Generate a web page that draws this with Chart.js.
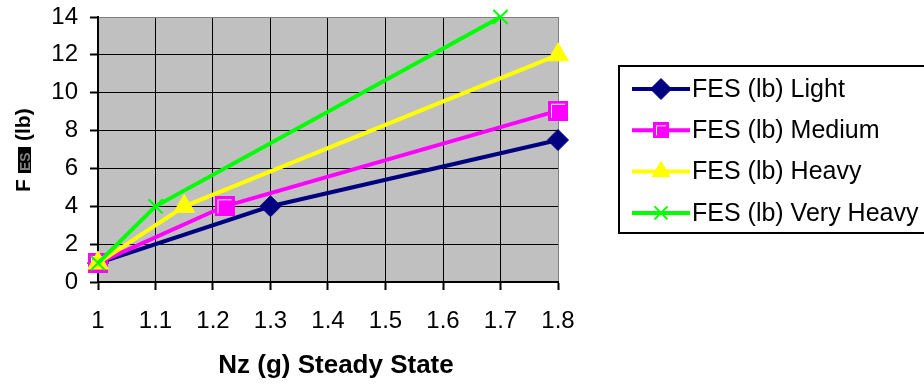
<!DOCTYPE html>
<html>
<head>
<meta charset="utf-8">
<script src="https://cdn.jsdelivr.net/npm/chart.js@4.4.0/dist/chart.umd.min.js"></script>
<style>
  html, body { margin: 0; padding: 0; background: #fff; }
  canvas { display: block; }
</style>
</head>
<body>
<canvas id="chart" width="924" height="384"></canvas>
<script>
// values
const seriesNames = ['FES (lb) Light', 'FES (lb) Medium', 'FES (lb) Heavy', 'FES (lb) Very Heavy'];
const lightNz = [1, 1.3, 1.8];
const lightFes = [1, 4, 7.5];
const mediumNz = [1, 1.22, 1.8];
const mediumFes = [1, 4, 9.05];
const heavyNz = [1, 1.15, 1.8];
const heavyFes = [1, 4, 12];
const veryHeavyNz = [1, 1.1, 1.7];
const veryHeavyFes = [1, 4, 14];

const nzTicks = [1, 1.1, 1.2, 1.3, 1.4, 1.5, 1.6, 1.7, 1.8];
const nzTickLabels = ['1', '1.1', '1.2', '1.3', '1.4', '1.5', '1.6', '1.7', '1.8'];
const fesTicks = [0, 2, 4, 6, 8, 10, 12, 14];
const fesTickLabels = ['0', '2', '4', '6', '8', '10', '12', '14'];

const xTitle = 'Nz (g) Steady State';

Chart.defaults.font.family = "'Liberation Sans', Arial, sans-serif";
Chart.defaults.color = '#000';

function toPoints(xs, ys) {
  return xs.map((x, i) => ({ x: x, y: ys[i] }));
}

// magenta square with the white inner edge, like the old Excel marker
function squareMarker(size) {
  const cv = document.createElement('canvas');
  cv.width = size; cv.height = size;
  const g = cv.getContext('2d');
  g.fillStyle = '#FF00FF';
  g.fillRect(0, 0, size, size);
  g.strokeStyle = '#fff';
  g.lineWidth = 1;
  g.beginPath();
  g.moveTo(3.5, size - 3);
  g.lineTo(3.5, 3.5);
  g.lineTo(size - 3, 3.5);
  g.stroke();
  return cv;
}
const sqPlot = squareMarker(20);
const sqLegend = squareMarker(16);

const datasets = [
  { label: seriesNames[0], data: toPoints(lightNz, lightFes), borderColor: '#000080', backgroundColor: '#000080',
    pointStyle: 'rectRot', pointRadius: 10.5, pointBorderWidth: 1, order: 4 },
  { label: seriesNames[1], data: toPoints(mediumNz, mediumFes), borderColor: '#FF00FF', backgroundColor: '#FF00FF',
    pointStyle: sqPlot, pointRadius: 10, pointBorderWidth: 0, order: 3 },
  { label: seriesNames[2], data: toPoints(heavyNz, heavyFes), borderColor: '#FFFF00', backgroundColor: '#FFFF00',
    pointStyle: 'triangle', pointRadius: 12, pointBorderWidth: 1, order: 2 },
  { label: seriesNames[3], data: toPoints(veryHeavyNz, veryHeavyFes), borderColor: '#00FF00', backgroundColor: '#00FF00',
    pointStyle: 'crossRot', pointRadius: 10, pointBorderWidth: 2, order: 1 }
];
datasets.forEach(ds => {
  ds.showLine = true;
  ds.borderWidth = 4;
  ds.tension = 0;
  ds.clip = false;
  ds.pointBorderColor = ds.borderColor;
  ds.pointBackgroundColor = ds.backgroundColor;
});

// grey plot background
const plotBg = {
  id: 'plotBg',
  beforeDraw(chart) {
    const a = chart.chartArea, ctx = chart.ctx;
    ctx.save();
    ctx.fillStyle = '#C0C0C0';
    ctx.fillRect(a.left, a.top, a.right - a.left, a.bottom - a.top);
    ctx.restore();
  }
};

// axis titles: y is F + the boxed "ES" glyph + (lb)
const axisTitles = {
  id: 'axisTitles',
  afterDraw(chart) {
    const ctx = chart.ctx;
    ctx.save();
    ctx.fillStyle = '#000';
    ctx.textAlign = 'center';
    ctx.textBaseline = 'middle';
    ctx.font = "bold 26px 'Liberation Sans', Arial, sans-serif";
    ctx.fillText(xTitle, 336, 366);

    ctx.translate(30, 192);
    ctx.rotate(-Math.PI / 2);
    ctx.textAlign = 'left';
    ctx.textBaseline = 'alphabetic';
    ctx.font = "bold 21px 'Liberation Sans', Arial, sans-serif";
    ctx.fillText('F', 0, 0);
    ctx.fillRect(19, -12, 26, 13);
    ctx.fillStyle = '#808080';
    ctx.font = "bold 14px 'Liberation Sans', Arial, sans-serif";
    ctx.fillText('ES', 21, 0);
    ctx.fillStyle = '#000';
    ctx.font = "bold 21px 'Liberation Sans', Arial, sans-serif";
    ctx.fillText('(lb)', 51, 0);
    ctx.restore();
  }
};

function drawMarker(ctx, ds, x, y, legendSq) {
  const style = ds.pointStyle, r = ds.pointRadius;
  ctx.save();
  ctx.fillStyle = ds.pointBackgroundColor;
  ctx.strokeStyle = ds.pointBorderColor;
  ctx.lineWidth = ds.pointBorderWidth || 1;
  if (style instanceof HTMLCanvasElement) {
    ctx.drawImage(legendSq, x - legendSq.width / 2, y - legendSq.height / 2);
  } else if (style === 'rectRot') {
    ctx.beginPath();
    ctx.moveTo(x, y - r); ctx.lineTo(x + r, y); ctx.lineTo(x, y + r); ctx.lineTo(x - r, y);
    ctx.closePath(); ctx.fill(); ctx.stroke();
  } else if (style === 'triangle') {
    const rr = r * 0.85;
    ctx.beginPath();
    ctx.moveTo(x, y - rr);
    ctx.lineTo(x + rr * Math.cos(Math.PI / 6), y + rr / 2);
    ctx.lineTo(x - rr * Math.cos(Math.PI / 6), y + rr / 2);
    ctx.closePath(); ctx.fill(); ctx.stroke();
  } else if (style === 'crossRot') {
    const d = r * 0.65;
    ctx.beginPath();
    ctx.moveTo(x - d, y - d); ctx.lineTo(x + d, y + d);
    ctx.moveTo(x + d, y - d); ctx.lineTo(x - d, y + d);
    ctx.stroke();
  }
  ctx.restore();
}

// legend box on the right, cut by the page edge like the original
const legendBox = {
  id: 'legendBox',
  afterDraw(chart) {
    const ctx = chart.ctx;
    ctx.save();
    ctx.strokeStyle = '#000';
    ctx.lineWidth = 2;
    ctx.strokeRect(619, 66, 320, 167);
    chart.data.datasets.forEach((ds, i) => {
      const y = 89 + i * 41.3;
      ctx.strokeStyle = ds.borderColor;
      ctx.lineWidth = 4;
      ctx.beginPath();
      ctx.moveTo(632, y); ctx.lineTo(690, y);
      ctx.stroke();
      drawMarker(ctx, ds, 661, y, sqLegend);
      ctx.fillStyle = '#000';
      ctx.font = "25px 'Liberation Sans', Arial, sans-serif";
      ctx.textBaseline = 'middle';
      ctx.textAlign = 'left';
      ctx.fillText(ds.label, 692, y + 1);
    });
    ctx.restore();
  }
};

const chart = new Chart(document.getElementById('chart'), {
  type: 'scatter',
  data: { datasets: datasets },
  options: {
    responsive: false,
    animation: false,
    layout: { padding: { top: 17, right: 366, left: 0, bottom: 0 } },
    plugins: { legend: { display: false }, tooltip: { enabled: false } },
    scales: {
      x: {
        type: 'linear', min: 1, max: 1.8,
        afterBuildTicks: s => { s.ticks = nzTicks.map(v => ({ value: v })); },
        afterFit: s => { s.height = 102; s.paddingLeft = 0; s.paddingRight = 0; },
        ticks: {
          font: { size: 24 }, color: '#000', padding: 17, maxRotation: 0, autoSkip: false,
          callback: (v, i) => nzTickLabels[i]
        },
        grid: {
          color: c => (c.tick && c.tick.value === 1.8) ? '#808080' : '#000',
          lineWidth: 1, tickLength: 8, tickColor: '#000', tickWidth: 2
        },
        border: { color: '#000', width: 2 }
      },
      y: {
        type: 'linear', min: 0, max: 14,
        afterBuildTicks: s => { s.ticks = fesTicks.map(v => ({ value: v })); },
        afterFit: s => { s.width = 98; s.paddingTop = 0; s.paddingBottom = 0; },
        ticks: {
          font: { size: 24 }, color: '#000', padding: 12,
          callback: (v, i) => fesTickLabels[i]
        },
        grid: {
          color: c => (c.tick && c.tick.value === 14) ? '#808080' : '#000',
          lineWidth: 1, tickLength: 8, tickColor: '#000', tickWidth: 2
        },
        border: { color: '#000', width: 2 }
      }
    }
  },
  plugins: [plotBg, axisTitles, legendBox]
});
</script>
</body>
</html>
